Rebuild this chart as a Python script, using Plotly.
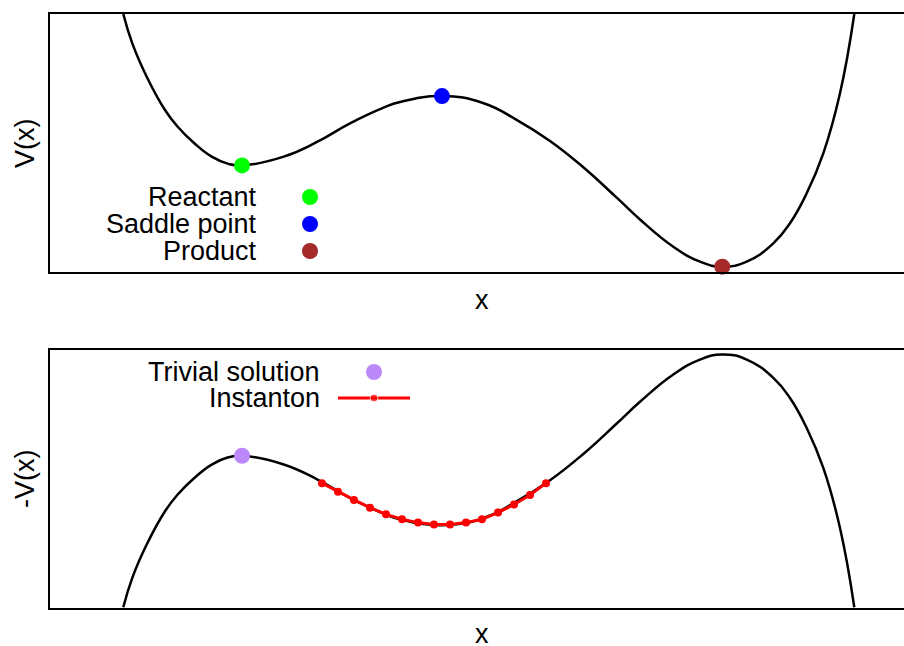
import plotly.graph_objects as go
from plotly.subplots import make_subplots

# Potential energy curve V(x), sampled along the reaction coordinate
x_grid = [-1.5935, -1.5485, -1.4765, -1.385, -1.3215, -1.2385, -1.1515, -1.0685,
          -1.0, -0.795, -0.625, -0.46, -0.295, -0.21, 0.0, 0.205, 0.375, 0.54,
          0.705, 0.875, 0.99, 1.1565, 1.29, 1.4015, 1.5235, 1.6565, 1.74,
          1.8235, 1.9065, 1.99, 2.0615]
V_curve = [1.0, 0.886, 0.757, 0.628, 0.563, 0.499, 0.447, 0.419,
           0.413, 0.446, 0.504, 0.576, 0.636, 0.659, 0.682, 0.655, 0.589, 0.508,
           0.407, 0.287, 0.2035, 0.098, 0.040, 0.0205, 0.040, 0.111, 0.189,
           0.305, 0.460, 0.693, 1.0]

# Stationary points: reactant minimum, saddle point, product minimum
stationary_names = ["Reactant", "Saddle point", "Product"]
stationary_x = [-1.0, 0.0, 1.4015]
stationary_V = [0.413, 0.682, 0.0205]
stationary_colors = ["#00ff00", "#0000ff", "#a52a2a"]

# Trivial solution sits at the reactant (top of the inverted potential)
trivial_x = [-1.0]
trivial_V = [0.413]
trivial_color = "#bb88fa"

# Discretised instanton path (beads) in the inverted potential
instanton_x = [-0.6, -0.52, -0.44, -0.36, -0.28, -0.2, -0.12, -0.04,
               0.04, 0.12, 0.2, 0.28, 0.36, 0.44, 0.52]
instanton_V = [0.519, 0.552, 0.584, 0.614, 0.640, 0.659, 0.672, 0.679,
               0.679, 0.672, 0.659, 0.633, 0.602, 0.565, 0.519]

FONT = "Liberation Sans"
FS = 27
W, H = 904, 646
ML, MR, MT, MB = 50, 0, 14, 38
plot_w = W - ML - MR
plot_h = H - MT - MB

X_RANGE = [-1.96, 2.31]
TOP_RANGE = [0.0, 1.0]
BOT_RANGE = [-1.003, -0.003]

# panel boundaries in pixels (top of figure = 0)
top_px = (14, 272)
bot_px = (350, 608)


def paper_x(px):
    return (px - ML) / plot_w


def paper_y(py):
    return (H - MB - py) / plot_h


def data_x(px):
    return X_RANGE[0] + (px - ML) / plot_w * (X_RANGE[1] - X_RANGE[0])


def data_y(py, panel):
    p0, p1 = panel
    rng = TOP_RANGE if panel == top_px else BOT_RANGE
    return rng[1] - (py - p0) / (p1 - p0) * (rng[1] - rng[0])


fig = make_subplots(rows=2, cols=1, vertical_spacing=0)

curve_line = dict(color="black", width=2.5, shape="spline", smoothing=1.3)

# --- upper panel: V(x) ---
fig.add_trace(go.Scatter(x=x_grid, y=V_curve, mode="lines", line=curve_line,
                         showlegend=False, hoverinfo="skip"), row=1, col=1)
for name, xs, vs, c in zip(stationary_names, stationary_x, stationary_V, stationary_colors):
    fig.add_trace(go.Scatter(x=[xs], y=[vs], mode="markers", name=name,
                             marker=dict(color=c, size=16, line=dict(width=0)),
                             cliponaxis=False, showlegend=False), row=1, col=1)

# --- lower panel: -V(x) ---
fig.add_trace(go.Scatter(x=x_grid, y=[-v for v in V_curve], mode="lines",
                         line=curve_line, showlegend=False, hoverinfo="skip"),
              row=2, col=1)
fig.add_trace(go.Scatter(x=instanton_x, y=[-v for v in instanton_V],
                         mode="lines+markers", name="Instanton",
                         line=dict(color="#ff0000", width=3),
                         marker=dict(color="#ff0000", size=8),
                         cliponaxis=False, showlegend=False), row=2, col=1)
fig.add_trace(go.Scatter(x=trivial_x, y=[-v for v in trivial_V], mode="markers",
                         name="Trivial solution",
                         marker=dict(color=trivial_color, size=16, line=dict(width=0)),
                         cliponaxis=False, showlegend=False), row=2, col=1)

# --- custom keys (text on the left, symbol on the right) ---
annotations = []
text_font = dict(family=FONT, size=FS, color="black")
key_rows_top = [197, 224, 251]
for name, c, py in zip(stationary_names, stationary_colors, key_rows_top):
    annotations.append(dict(text=name, x=paper_x(258), y=paper_y(py), xref="paper",
                            yref="paper", xanchor="right", yanchor="middle",
                            borderpad=0, showarrow=False, font=text_font))
    fig.add_trace(go.Scatter(x=[data_x(310)], y=[data_y(py, top_px)], mode="markers",
                             marker=dict(color=c, size=16, line=dict(width=0)),
                             showlegend=False, hoverinfo="skip"), row=1, col=1)

annotations.append(dict(text="Trivial solution", x=paper_x(321), y=paper_y(372),
                        xref="paper", yref="paper", xanchor="right", yanchor="middle",
                        borderpad=0, showarrow=False, font=text_font))
fig.add_trace(go.Scatter(x=[data_x(374)], y=[data_y(372, bot_px)], mode="markers",
                         marker=dict(color=trivial_color, size=16, line=dict(width=0)),
                         showlegend=False, hoverinfo="skip"), row=2, col=1)
annotations.append(dict(text="Instanton", x=paper_x(321), y=paper_y(398),
                        xref="paper", yref="paper", xanchor="right", yanchor="middle",
                        borderpad=0, showarrow=False, font=text_font))
fig.add_trace(go.Scatter(x=[data_x(338), data_x(374), data_x(410)],
                         y=[data_y(398, bot_px)] * 3, mode="lines+markers",
                         line=dict(color="#ff0000", width=3),
                         marker=dict(color="#ff0000", size=[0, 8, 0]),
                         showlegend=False, hoverinfo="skip"), row=2, col=1)

# --- axis titles ---
for label, py in (("x", 300), ("x", 634)):
    annotations.append(dict(text=label, x=paper_x(482), y=paper_y(py), xref="paper",
                            yref="paper", xanchor="center", yanchor="middle",
                            borderpad=0, showarrow=False, font=text_font))
for label, py in (("V(x)", 143), ("-V(x)", 479)):
    annotations.append(dict(text=label, x=paper_x(25), y=paper_y(py), xref="paper",
                            yref="paper", xanchor="center", yanchor="middle",
                            textangle=-90, borderpad=0, showarrow=False, font=text_font))

axis_common = dict(showgrid=False, zeroline=False, showticklabels=False, ticks="",
                   showline=True, linecolor="black", linewidth=1.5)
fig.update_xaxes(range=X_RANGE, mirror=True, **axis_common)
fig.update_yaxes(mirror=False, **axis_common)
fig.update_yaxes(range=TOP_RANGE, row=1, col=1)
fig.update_yaxes(range=BOT_RANGE, row=2, col=1)

fig.update_layout(
    width=W, height=H,
    margin=dict(l=ML, r=MR, t=MT, b=MB, pad=0),
    paper_bgcolor="white", plot_bgcolor="white",
    font=text_font,
    annotations=annotations,
    xaxis=dict(domain=[0, 1]),
    yaxis=dict(domain=[paper_y(top_px[1]), 1.0]),
    yaxis2=dict(domain=[0.0, paper_y(bot_px[0])]),
)

fig.write_html("out.html")
